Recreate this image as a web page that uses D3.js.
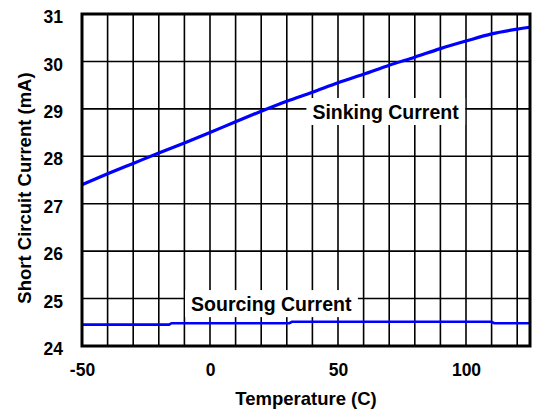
<!DOCTYPE html>
<html>
<head>
<meta charset="utf-8">
<script src="https://cdn.jsdelivr.net/npm/d3@7"></script>
<style>
  body { margin: 0; background: #fff; }
  text { font-family: "Liberation Sans", Arial, sans-serif; font-weight: bold; fill: #000; }
</style>
</head>
<body>
<div class="chart"></div>
<script>
// values
var temps = [-50, -40, -30, -20, -10, 0, 10, 20, 30, 40, 50, 60, 70, 80, 90, 100, 110, 120, 125];
var sinking = [27.40, 27.63, 27.85, 28.07, 28.28, 28.50, 28.73, 28.95, 29.16, 29.35, 29.55, 29.73, 29.92, 30.09, 30.27, 30.43, 30.58, 30.68, 30.72];
var sourceTemps = [-50, -16, -15, 31, 32, 110, 111, 125];
var sourcing = [24.45, 24.45, 24.48, 24.48, 24.51, 24.51, 24.48, 24.48];
var xTicks = [-50, 0, 50, 100];
var yTicks = [24, 25, 26, 27, 28, 29, 30, 31];

(function(){
  var W = 536, H = 412;
  var m = {top: 14, right: 6, bottom: 66, left: 82};
  var w = W - m.left - m.right, h = H - m.top - m.bottom;

  var svg = d3.select(".chart").append("svg").attr("width", W).attr("height", H);
  var g = svg.append("g").attr("transform", "translate(" + m.left + "," + m.top + ")");

  var x = d3.scaleLinear().domain([-50, 125]).range([0, w]);
  var y = d3.scaleLinear().domain([24, 31]).range([h, 0]);

  // grid, every 10 degrees and every 1 mA
  g.selectAll(".vg").data(d3.range(-40, 125, 10)).enter().append("line")
    .attr("x1", function(d){ return x(d); }).attr("x2", function(d){ return x(d); })
    .attr("y1", 0).attr("y2", h)
    .attr("stroke", "#000").attr("stroke-width", 1.6);
  g.selectAll(".hg").data(yTicks.slice(1, -1)).enter().append("line")
    .attr("y1", function(d){ return y(d); }).attr("y2", function(d){ return y(d); })
    .attr("x1", 0).attr("x2", w)
    .attr("stroke", "#000").attr("stroke-width", 1.6);

  var line = d3.line().x(function(d){ return x(d[0]); }).y(function(d){ return y(d[1]); });

  g.append("path").datum(d3.zip(temps, sinking))
    .attr("d", line.curve(d3.curveMonotoneX))
    .attr("fill", "none").attr("stroke", "#0000ff").attr("stroke-width", 3.2);
  g.append("path").datum(d3.zip(sourceTemps, sourcing))
    .attr("d", line.curve(d3.curveLinear))
    .attr("fill", "none").attr("stroke", "#0000ff").attr("stroke-width", 2.6);

  // labels sit on white boxes that cut the grid
  var labels = [
    {t: "Sinking Current", x: 40, y: 28.93},
    {t: "Sourcing Current", x: -7.4, y: 24.88}
  ];
  labels.forEach(function(l){
    var tg = g.append("g");
    var r = tg.append("rect").attr("fill", "#fff");
    var tx = tg.append("text").attr("x", x(l.x)).attr("y", y(l.y))
      .attr("dy", "0.35em").attr("font-size", "19.5px").text(l.t);
    var b = tx.node().getBBox();
    r.attr("x", b.x - 6).attr("y", b.y - 3).attr("width", b.width + 12).attr("height", b.height + 5);
  });

  // frame
  g.append("rect").attr("width", w).attr("height", h)
    .attr("fill", "none").attr("stroke", "#000").attr("stroke-width", 3);

  var fmt = function(d){ return String(d); };  // plain hyphen minus
  var xa = g.append("g").attr("transform", "translate(0," + h + ")")
    .call(d3.axisBottom(x).tickValues(xTicks).tickFormat(fmt).tickSize(0).tickPadding(18));
  var ya = g.append("g")
    .call(d3.axisLeft(y).tickValues(yTicks).tickFormat(fmt).tickSize(0).tickPadding(19));
  [xa, ya].forEach(function(a){
    a.select(".domain").remove();
    a.selectAll("text").attr("font-size", "17.5px").attr("font-family", null).style("font-weight", "bold");
  });
  ya.selectAll("text").attr("transform", "translate(0,3)");

  svg.append("text").attr("x", m.left + w / 2).attr("y", 405)
    .attr("text-anchor", "middle").attr("font-size", "18.5px").text("Temperature (C)");
  svg.append("text").attr("transform", "translate(31," + (m.top + h / 2 + 8) + ") rotate(-90)")
    .attr("text-anchor", "middle").attr("font-size", "18.5px").text("Short Circuit Current (mA)");
})()
</script>
</body>
</html>
